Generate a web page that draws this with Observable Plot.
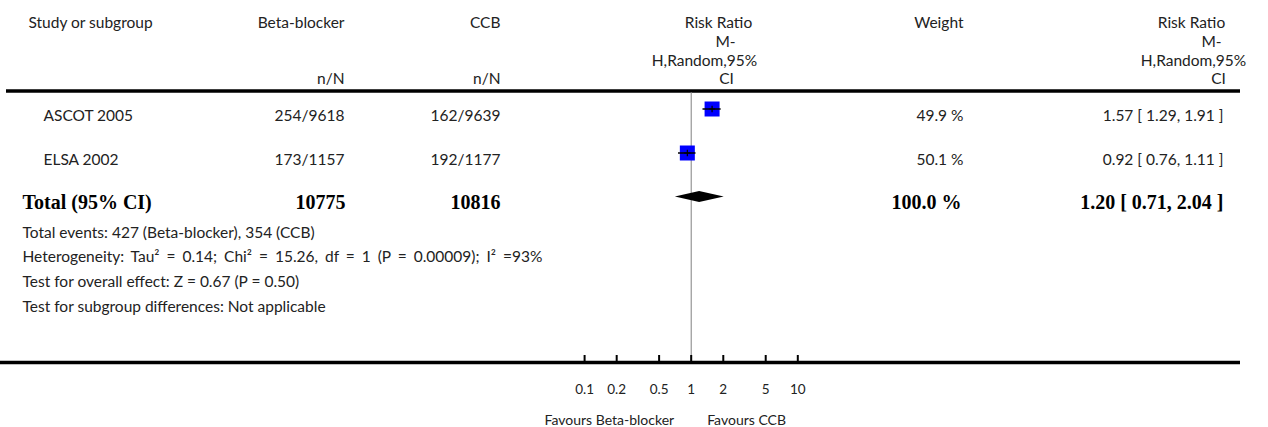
<!DOCTYPE html>
<html><head><meta charset="utf-8">
<script src="https://cdn.jsdelivr.net/npm/d3@7"></script>
<script src="https://cdn.jsdelivr.net/npm/@observablehq/plot@0.6"></script>
<style>
html,body{margin:0;padding:0;background:#fff;}
#chart svg{display:block;}
</style></head>
<body><div id="chart"></div>
<script>
// ---------------- data ----------------
const studies = ["ASCOT 2005", "ELSA 2002"];
const betaBlockerNN = ["254/9618", "173/1157"];
const ccbNN = ["162/9639", "192/1177"];
const riskRatio = [1.57, 0.92];
const ciLow = [1.29, 0.76];
const ciHigh = [1.91, 1.11];
const weightPct = [49.9, 50.1];

const totalLabel = "Total (95% CI)";
const totalN = [10775, 10816];          // Beta-blocker, CCB
const totalEstimate = [1.20, 0.71, 2.04]; // RR, low, high
const totalWeight = 100.0;

const footnotes = [
  "Total events: 427 (Beta-blocker), 354 (CCB)",
  "Heterogeneity: Tau\u00B2 = 0.14; Chi\u00B2 = 15.26, df = 1 (P = 0.00009); I\u00B2 =93%",
  "Test for overall effect: Z = 0.67 (P = 0.50)",
  "Test for subgroup differences: Not applicable"
];
const tickValues = [0.1, 0.2, 0.5, 1, 2, 5, 10];
const tickLabels = ["0.1", "0.2", "0.5", "1", "2", "5", "10"];
const favoursLabels = ["Favours Beta-blocker", "Favours CCB"];
const groupHeaders = ["Beta-blocker", "CCB"];
const riskRatioHeader = ["Risk Ratio", "M-", "H,Random,95%", "CI"];

// ---------------- layout ----------------
const W = 1268, H = 427;
const frameRight = 1240, frameBottom = 362;
const onePx = 690.7, decadePx = 106.6;
const row0 = 108.5, rowStep = 44;
const FS = 15.5, FSB = 20, FSA = 13.5, FSF = 14;
const FONT = "Lato, 'Open Sans', sans-serif";
const SERIF = "'Liberation Serif', 'DejaVu Serif', serif";
const INK = "#222";

const rowOf = py => (py - row0) / rowStep;               // pixel -> row units
const mid = (baseline, fs) => rowOf(baseline - 0.32 * fs); // baseline -> centre row

// ---------------- tables built from the arrays ----------------
const rows = studies.map((s, i) => ({
  study: s, bb: betaBlockerNN[i], ccb: ccbNN[i],
  rr: riskRatio[i], lo: ciLow[i], hi: ciHigh[i],
  weight: weightPct[i].toFixed(1) + " %",
  rrText: `${riskRatio[i].toFixed(2)} [ ${ciLow[i].toFixed(2)}, ${ciHigh[i].toFixed(2)} ]`,
  row: i, ty: mid(120 + i * rowStep, FS)
}));
const totalRowIdx = studies.length;
const total = [{
  label: totalLabel, bb: String(totalN[0]), ccb: String(totalN[1]),
  weight: totalWeight.toFixed(1) + " %",
  rrText: `${totalEstimate[0].toFixed(2)} [ ${totalEstimate[1].toFixed(2)}, ${totalEstimate[2].toFixed(2)} ]`,
  ty: mid(208, FSB)
}];
const diamondHalf = 5.5 / rowStep;
const diamond = [
  {x: totalEstimate[1], y1: totalRowIdx, y2: totalRowIdx},
  {x: totalEstimate[0], y1: totalRowIdx - diamondHalf, y2: totalRowIdx + diamondHalf},
  {x: totalEstimate[2], y1: totalRowIdx, y2: totalRowIdx}
];
const foot = footnotes.map((t, i) => ({t, y: mid(237 + i * 24.7, FS)}));
const rrHeadPx = [718, 725, 704, 726];
const rrHead2Px = [1191, 1211, 1193, 1218];
const rrHeadBase = [27, 46, 65, 83];
const rrHeadL = riskRatioHeader.map((t, i) => ({t, px: rrHeadPx[i], y: mid(rrHeadBase[i], FS)}));
const rrHeadR = riskRatioHeader.map((t, i) => ({t, px: rrHead2Px[i], y: mid(rrHeadBase[i], FS)}));
const xFromPx = px => Math.pow(10, (px - onePx) / decadePx);

const txt = (data, px, anchor, o = {}) => Plot.text(data, {
  frameAnchor: "left", dx: px, textAnchor: anchor,
  fontFamily: FONT, fontSize: FS, fill: INK, ...o
});
const bold = {fontFamily: SERIF, fontSize: FSB, fontWeight: "bold", fill: "#000"};

const chart = Plot.plot({
  width: W, height: H,
  marginLeft: 0, marginRight: W - frameRight, marginTop: 0, marginBottom: H - frameBottom,
  x: {type: "log", range: [0, frameRight],
      domain: [xFromPx(0), xFromPx(frameRight)], axis: null},
  y: {type: "linear", range: [0, frameBottom],
      domain: [rowOf(0), rowOf(frameBottom)], axis: null},
  style: {fontFamily: FONT, background: "#fff"},
  marks: [
    // header
    txt(["Study or subgroup"], 28, "start", {text: d => d, y: mid(27, FS)}),
    txt([groupHeaders[0]], 344, "end", {text: d => d, y: mid(27, FS)}),
    txt([groupHeaders[1]], 500, "end", {text: d => d, y: mid(27, FS)}),
    txt(["n/N"], 344, "end", {text: d => d, y: mid(83, FS)}),
    txt(["n/N"], 500, "end", {text: d => d, y: mid(83, FS)}),
    Plot.text(rrHeadL, {x: d => xFromPx(d.px), y: "y", text: "t", textAnchor: "middle", fontFamily: FONT, fontSize: FS, fill: INK}),
    txt(["Weight"], 963, "end", {text: d => d, y: mid(27, FS)}),
    Plot.text(rrHeadR, {x: d => xFromPx(d.px), y: "y", text: "t", textAnchor: "middle", fontFamily: FONT, fontSize: FS, fill: INK}),
    // header rule
    Plot.ruleY([rowOf(90.5)], {x1: xFromPx(6), x2: xFromPx(frameRight), stroke: "#000", strokeWidth: 3.5}),
    // line of no effect
    Plot.ruleX([1], {y1: rowOf(92), y2: rowOf(frameBottom), stroke: "#808080", strokeWidth: 1}),
    // study rows
    txt(rows, 43, "start", {text: "study", y: "ty"}),
    txt(rows, 344, "end", {text: "bb", y: "ty"}),
    txt(rows, 500, "end", {text: "ccb", y: "ty"}),
    txt(rows, 963, "end", {text: "weight", y: "ty"}),
    txt(rows, 1223, "end", {text: "rrText", y: "ty"}),
    Plot.dot(rows, {x: "rr", y: "row", symbol: "square", r: 15 / Math.sqrt(Math.PI), fill: "#0000ff", stroke: "none"}),
    Plot.ruleY(rows, {y: "row", x1: "lo", x2: "hi", stroke: "#000", strokeWidth: 1.5}),
    Plot.dot(rows, {x: "rr", y: "row", symbol: "plus", r: 2.2, stroke: "#000", strokeWidth: 1.2}),
    // total row
    txt(total, 22, "start", {text: "label", y: "ty", ...bold}),
    txt(total, 345, "end", {text: "bb", y: "ty", ...bold}),
    txt(total, 500, "end", {text: "ccb", y: "ty", ...bold}),
    txt(total, 961, "end", {text: "weight", y: "ty", ...bold}),
    txt(total, 1223, "end", {text: "rrText", y: "ty", ...bold}),
    Plot.areaY(diamond, {x: "x", y1: "y1", y2: "y2", fill: "#000", curve: "linear"}),
    // footnotes
    txt(foot, 22, "start", {text: "t", y: "y"}),
    // axis
    Plot.ruleY([rowOf(frameBottom)], {stroke: "#000", strokeWidth: 3.5}),
    Plot.ruleX(tickValues, {y1: rowOf(frameBottom - 7), y2: rowOf(frameBottom), stroke: "#000", strokeWidth: 2}),
    Plot.text(tickValues, {x: d => d, y: mid(393, FSA), text: (d, i) => tickLabels[i], fontFamily: FONT, fontSize: FSA, fill: INK}),
    Plot.text([favoursLabels[0]], {x: 1, y: mid(424, FSF), dx: -17, text: d => d, textAnchor: "end", fontFamily: FONT, fontSize: FSF, fill: INK}),
    Plot.text([favoursLabels[1]], {x: 1, y: mid(424, FSF), dx: 16, text: d => d, textAnchor: "start", fontFamily: FONT, fontSize: FSF, fill: INK})
  ]
});
// RevMan sets the heterogeneity statement with wider word gaps
d3.select(chart).selectAll("text")
  .filter(function() { return this.textContent.startsWith("Heterogeneity"); })
  .attr("word-spacing", 3);
document.getElementById("chart").appendChild(chart);
</script>
</body></html>
